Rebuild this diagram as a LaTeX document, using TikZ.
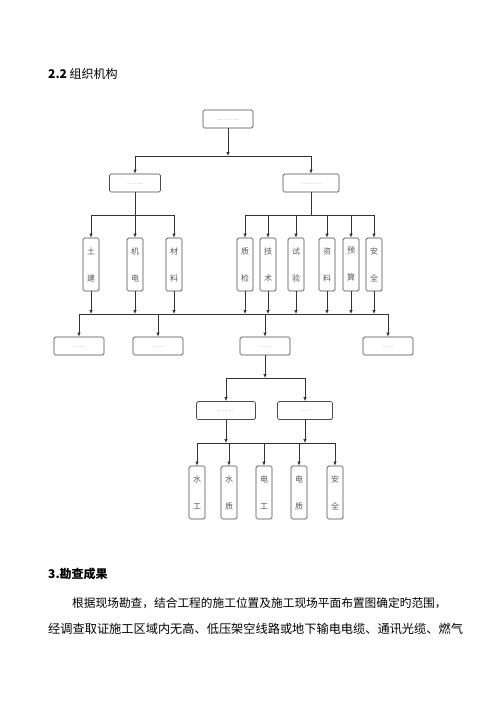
\documentclass[tikz,border=0pt]{standalone}
\usepackage{fontspec}
\setmainfont{Liberation Serif}
\newfontfamily\cjk{Noto Sans CJK SC}
\usetikzlibrary{arrows.meta,positioning}

% faint, unreadable label inside the wide boxes
\newcommand{\blur}[1]{\raisebox{-4pt}{\textcolor{black!35}{\fontsize{5}{5}\selectfont #1}}}

\begin{document}
\begin{tikzpicture}[x=1pt, y=-1pt,
		box/.style={draw=black!70, line width=0.7pt, rounded corners=1.5pt, fill=white,
			minimum width=50pt, minimum height=18pt, inner sep=0pt},
		vbox/.style={box, minimum width=16pt, minimum height=53pt, align=center,
			font=\cjk\fontsize{8}{27}\selectfont, text=black!65},
		link/.style={draw=black!80, line width=0.7pt},
		arr/.style={link, -{Latex[length=4pt,width=3.5pt]}}]
			\useasboundingbox[fill=white] (0,0) rectangle (500,707);
			
			% Heading
			\node[anchor=base west, inner sep=0pt, font=\cjk\fontsize{12}{12}\selectfont] (title) at (48,78) {\textbf{2.2} 组织机构};
			
			% Top and second level
			\node[box, minimum width=50pt] (head) at (228,119) {\blur{--- -- --- ---}};
			\node[box, minimum width=51pt] (mgr) at (135,183) {\blur{-- - -- ---}};
			\node[box, minimum width=56pt] (eng) at (311,183) {\blur{- - -- - -- ---}};
			\coordinate (bus1) at (228,156);
			\draw[arr] (head) -- (bus1);
			\draw[link] (mgr.north |- bus1) -- (eng.north |- bus1);
			\draw[arr] (mgr.north |- bus1) -- (mgr);
			\draw[arr] (eng.north |- bus1) -- (eng);
			
			% Departments
			\foreach \n/\x/\txt in {tj/91/土\\建, jd/135/机\\电, cl/174/材\\料,
				zj/245/质\\检, js/268/技\\术, sy/296/试\\验, zl/327/资\\料, ys/351/预\\算, aq/374/安\\全} {
				\node[vbox] (\n) at (\x,264.5) {\txt};
			}
			\coordinate (busa) at (135,215);
			\coordinate (busb) at (311,215);
			\draw[link] (mgr) -- (busa);
			\draw[link] (eng) -- (busb);
			\draw[link] (tj.north |- busa) -- (cl.north |- busa);
			\draw[link] (zj.north |- busb) -- (aq.north |- busb);
			\foreach \n in {tj,jd,cl} \draw[arr] (\n.north |- busa) -- (\n);
			\foreach \n in {zj,js,sy,zl,ys,aq} \draw[arr] (\n.north |- busb) -- (\n);
			
			% Teams
			\node[box] (t1) at (79,346) {\blur{- -- ---}};
			\node[box] (t2) at (158,346) {\blur{- -- ---}};
			\node[box] (t3) at (265,346) {\blur{- -- ---}};
			\node[box] (t4) at (388,346) {\blur{- -- ---}};
			\coordinate (bus2) at (0,314);
			\foreach \n in {tj,jd,cl,zj,js,sy,zl,ys,aq} \draw[arr] (\n) -- (\n.south |- bus2);
			\draw[link] (t1.north |- bus2) -- (t4.north |- bus2);
			\foreach \n in {t1,t2,t3,t4} \draw[arr] (\n.north |- bus2) -- (\n);
			
			% Sub teams
			\node[box, minimum width=59pt] (s1) at (226,410.5) {\blur{-- -- - -- -}};
			\node[box, minimum width=55pt] (s2) at (305,410.5) {\blur{- -- --}};
			\coordinate (bus3) at (265,378);
			\draw[arr] (t3) -- (bus3);
			\draw[link] (s1.north |- bus3) -- (s2.north |- bus3);
			\draw[arr] (s1.north |- bus3) -- (s1);
			\draw[arr] (s2.north |- bus3) -- (s2);
			
			% Workers
			\foreach \n/\x/\txt in {sg/197/水\\工, sz/229/水\\质, dg/264/电\\工, dz/299/电\\质, aw/335/安\\全} {
				\node[vbox] (\n) at (\x,492.5) {\txt};
			}
			\coordinate (bus4) at (0,443);
			\draw[arr] (s1) -- (s1.south |- bus4);
			\draw[arr] (s2) -- (s2.south |- bus4);
			\draw[link] (sg.north |- bus4) -- (aw.north |- bus4);
			\foreach \n in {sg,sz,dg,dz,aw} \draw[arr] (\n.north |- bus4) -- (\n);
			
			% Following text
			\node[anchor=base west, inner sep=0pt, font=\cjk\bfseries\fontsize{12}{12}\selectfont] (sec) at (48,578) {3.勘查成果};
			\node[anchor=base west, inner sep=0pt, font=\cjk\fontsize{11.7}{12}\selectfont] (line1) at (72,607) {根据现场勘查，结合工程的施工位置及施工现场平面布置图确定旳范围，};
			\node[anchor=base west, inner sep=0pt, font=\cjk\fontsize{12.2}{12}\selectfont] (line2) at (48,633) {经调查取证施工区域内无高、低压架空线路或地下输电电缆、通讯光缆、燃气};
		\end{tikzpicture}
\end{document}
